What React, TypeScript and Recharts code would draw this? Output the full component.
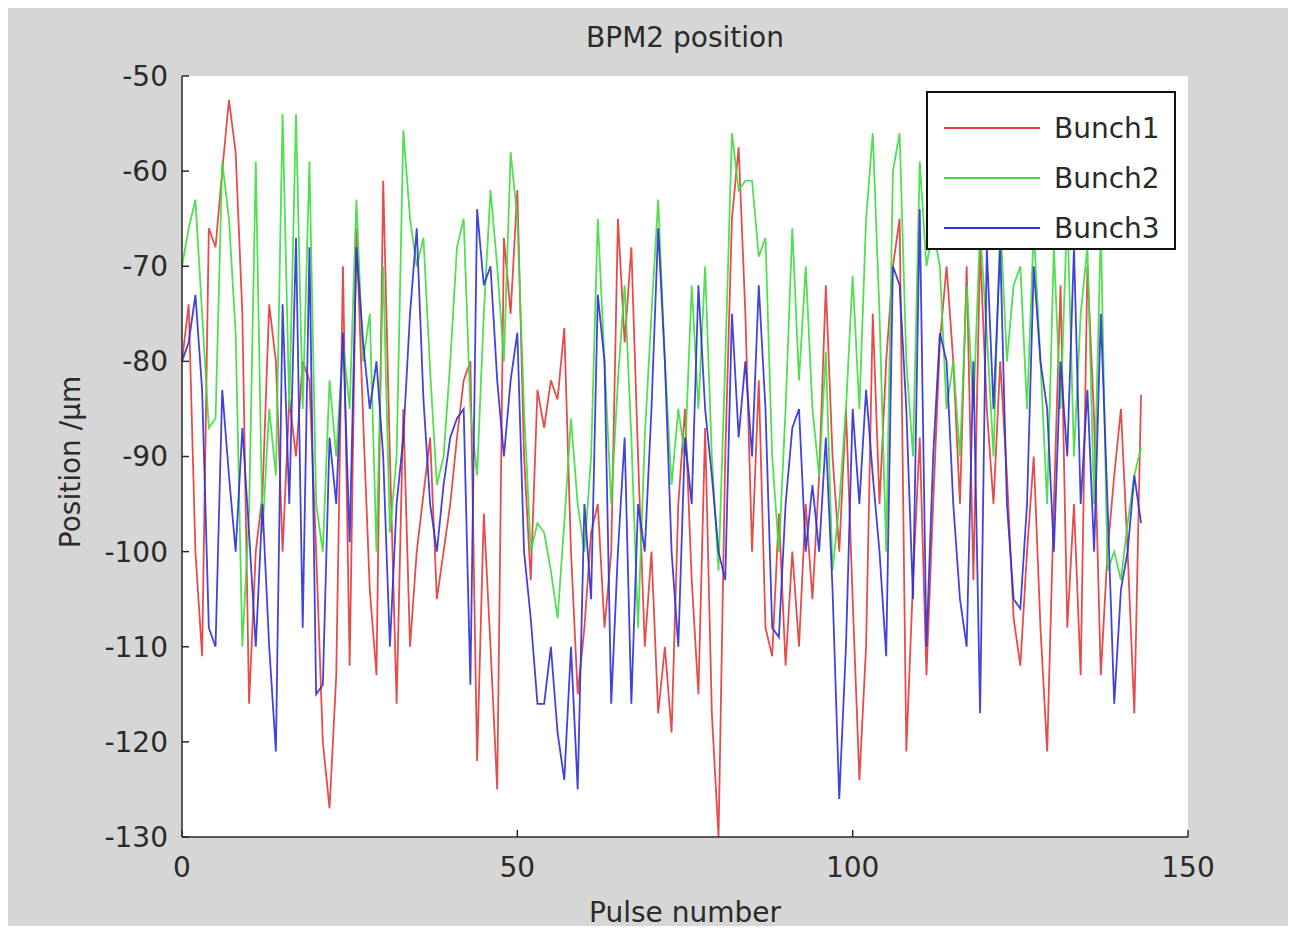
import React from "react";
import {
  CartesianGrid,
  Legend,
  Line,
  LineChart,
  XAxis,
  YAxis,
} from "recharts";

// BPM2 readings per pulse, µm
const bunch1 = [
  -80, -74, -100, -111, -66, -68, -60, -52.5, -58, -75, -116, -100, -94, -74, -80, -100,
  -84, -90, -80, -82, -100, -120, -127, -113, -70, -112, -66, -86, -104, -113, -61, -90,
  -116, -85, -110, -100, -94, -88, -105, -100, -95, -88, -82, -80, -122, -96, -110, -125,
  -67, -75, -62, -90, -103, -83, -87, -82, -84, -76.5, -100, -115, -108, -98, -95, -108,
  -100, -65, -78, -68, -90, -110, -100, -117, -110, -119, -95, -85, -103, -115, -87, -117,
  -130, -90, -65, -57.5, -75, -100, -82, -108, -111, -96, -112, -100, -110, -95, -105, -92,
  -72, -90, -100, -85, -105, -124, -110, -75, -95, -80, -70, -65, -121, -103, -88, -113,
  -95, -78, -70, -80, -95, -70, -103, -68, -85, -95, -80, -92, -107, -112, -100, -90,
  -108, -121, -95, -72, -108, -95, -113, -70, -86, -113, -100, -92, -85, -100, -117, -83.5,
];

const bunch2 = [
  -70, -66, -63, -75, -87, -86, -59, -65, -77, -110, -96, -59, -98, -85, -92, -54,
  -85, -54, -85, -59, -95, -100, -82, -90, -78, -85, -63, -80, -75, -100, -70, -98,
  -90, -55.7, -65, -70, -67, -81, -93, -90, -80, -68, -65, -85, -92, -75, -62, -70,
  -80, -58, -65, -85, -100, -97, -98, -102, -107, -97, -86, -95, -100, -90, -65, -80,
  -95, -82, -72, -88, -108, -88, -75, -63, -80, -93, -85, -90, -72, -85, -70, -90,
  -102, -80, -56, -62, -61, -61, -69, -67, -90, -100, -85, -66, -82, -70, -85, -92,
  -79, -102, -95, -85, -71, -85, -65, -56, -75, -100, -60, -56, -80, -90, -59, -70,
  -66, -70, -85, -80, -90, -72, -85, -66, -77, -90, -65, -80, -72, -70, -85, -66,
  -80, -95, -68, -85, -64, -90, -75, -68, -95, -66, -102, -100, -103, -97, -92, -89,
];

const bunch3 = [
  -80, -78, -73, -83, -108, -110, -83, -92, -100, -87, -98, -110, -95, -110, -121, -74,
  -95, -67, -108, -68, -115, -114, -88, -95, -77, -99, -68, -78, -85, -80, -90, -110,
  -95, -88, -75, -66, -84, -95, -100, -93, -88, -86, -85, -114, -64, -72, -70, -82,
  -90, -82, -77, -100, -107, -116, -116, -110, -119, -124, -110, -125, -95, -105, -73, -80,
  -116, -100, -88, -116, -95, -100, -85, -66, -80, -100, -110, -88, -95, -72, -85, -92,
  -100, -103, -75, -88, -80, -90, -72, -85, -108, -109, -95, -87, -85, -100, -93, -100,
  -88, -104, -126, -110, -85, -95, -83, -92, -100, -111, -70, -72, -85, -105, -64, -110,
  -90, -77, -80, -95, -105, -110, -80, -117, -68, -85, -68, -95, -105, -106, -95, -70,
  -80, -85, -100, -80, -90, -68, -95, -83, -100, -75, -95, -116, -104, -100, -92, -97,
];

const xTicks = [0, 50, 100, 150];
const yTicks = [-130, -120, -110, -100, -90, -80, -70, -60, -50];

const series = [
  { key: "b1", name: "Bunch1", color: "#e23a3a" },
  { key: "b2", name: "Bunch2", color: "#3fdc3f" },
  { key: "b3", name: "Bunch3", color: "#2f2fd8" },
];

const data = bunch1.map((v, i) => ({ pulse: i, b1: v, b2: bunch2[i], b3: bunch3[i] }));

const FONT = "'DejaVu Sans', sans-serif";
const INK = "#2a2a2a";

function LegendBox() {
  return (
    <div
      style={{
        width: 250,
        height: 159,
        background: "#fff",
        border: "2px solid #111",
        boxSizing: "border-box",
        fontFamily: FONT,
        fontSize: 28,
        color: INK,
        paddingTop: 10,
      }}
    >
      {series.map((s) => (
        <div key={s.key} style={{ display: "flex", alignItems: "center", height: 50 }}>
          <svg width={126} height={10}>
            <line x1={16} x2={112} y1={5} y2={5} stroke={s.color} strokeWidth={1.8} />
          </svg>
          <span>{s.name}</span>
        </div>
      ))}
    </div>
  );
}

export default function App() {
  return (
    <div style={{ position: "relative", width: 1280, height: 918, background: "#d6d6d6" }}>
      <div
        style={{
          position: "absolute",
          left: 174,
          width: 1006,
          top: 13,
          textAlign: "center",
          fontFamily: FONT,
          fontSize: 28,
          color: INK,
        }}
      >
        BPM2 position
      </div>
      <div
        style={{
          position: "absolute",
          left: 174,
          width: 1006,
          top: 888,
          textAlign: "center",
          fontFamily: FONT,
          fontSize: 28,
          color: INK,
        }}
      >
        Pulse number
      </div>
      <div
        style={{
          position: "absolute",
          left: 62,
          top: 454,
          transform: "translate(-50%, -50%) rotate(-90deg)",
          whiteSpace: "nowrap",
          fontFamily: FONT,
          fontSize: 28,
          color: INK,
        }}
      >
        Position /μm
      </div>
      <LineChart
        width={1280}
        height={918}
        data={data}
        margin={{ top: 68, right: 100, bottom: 29, left: 94 }}
        style={{ position: "absolute", left: 0, top: 0 }}
      >
        <CartesianGrid fill="#fff" horizontal={false} vertical={false} />
        <XAxis
          dataKey="pulse"
          type="number"
          domain={[0, 150]}
          ticks={xTicks}
          height={60}
          tickSize={-7}
          tickMargin={27}
          axisLine={{ stroke: INK, strokeWidth: 1.5 }}
          tickLine={{ stroke: INK, strokeWidth: 1.5 }}
          tick={{ fill: INK, fontSize: 28, fontFamily: FONT }}
        />
        <YAxis
          type="number"
          domain={[-130, -50]}
          ticks={yTicks}
          width={80}
          tickSize={-7}
          tickMargin={21}
          axisLine={{ stroke: INK, strokeWidth: 1.5 }}
          tickLine={{ stroke: INK, strokeWidth: 1.5 }}
          tick={{ fill: INK, fontSize: 28, fontFamily: FONT }}
        />
        {series.map((s) => (
          <Line
            key={s.key}
            dataKey={s.key}
            name={s.name}
            stroke={s.color}
            strokeWidth={1.8}
            strokeOpacity={0.9}
            dot={false}
            isAnimationActive={false}
          />
        ))}
        <Legend
          layout="vertical"
          align="center"
          verticalAlign="middle"
          content={() => <LegendBox />}
          wrapperStyle={{ position: "absolute", top: 83, left: 918, width: 250, height: 159 }}
        />
      </LineChart>
    </div>
  );
}
